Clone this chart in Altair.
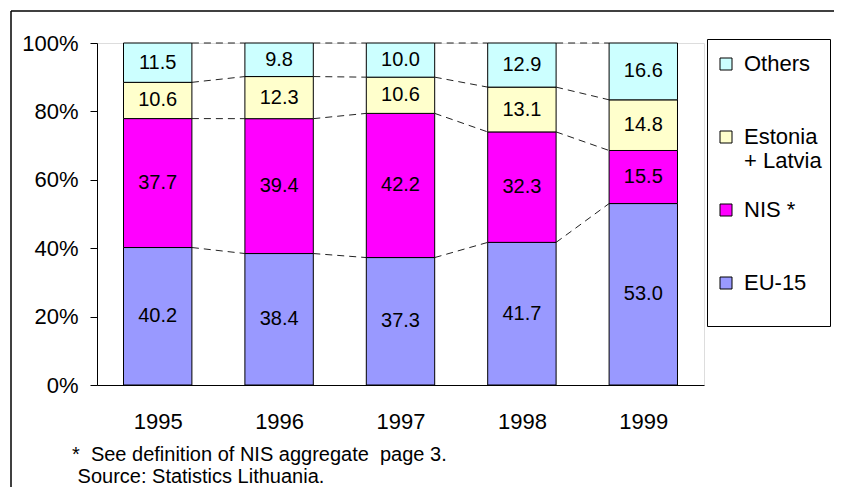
import altair as alt
import pandas as pd

years = [1995, 1996, 1997, 1998, 1999]
series = ["EU-15", "NIS *", "Estonia + Latvia", "Others"]
eu15 = [40.2, 38.4, 37.3, 41.7, 53.0]
nis = [37.7, 39.4, 42.2, 32.3, 15.5]
est_lat = [10.6, 12.3, 10.6, 13.1, 14.8]
others = [11.5, 9.8, 10.0, 12.9, 16.6]
colors = ["#9999FF", "#FF00FF", "#FFFFCC", "#CCFFFF"]
footnote = ["*\u00a0\u00a0See definition of NIS aggregate\u00a0 page 3.",
            "\u200b\u00a0Source: Statistics Lithuania."]

HALF = 0.2817  # half bar width in category units

values = [eu15, nis, est_lat, others]
rows = []
tops = {}
for i, yr in enumerate(years):
    total = sum(v[i] for v in values)
    cum = 0.0
    for s, v in zip(series, values):
        start = cum / total
        cum += v[i]
        end = cum / total
        rows.append(dict(year=yr, series=s, value=v[i], label=f"{v[i]:.1f}",
                         start=start, end=end, mid=(start + end) / 2,
                         x0=yr - HALF, x1=yr + HALF))
        tops[(s, i)] = end
df = pd.DataFrame(rows)

lrows = []
for s in series:
    for i in range(len(years) - 1):
        lrows.append(dict(series=s, xa=years[i] + HALF, xb=years[i + 1] - HALF,
                          ya=tops[(s, i)], yb=tops[(s, i + 1)]))
ldf = pd.DataFrame(lrows)

FONT = "Liberation Sans"
xscale = alt.Scale(domain=[1994.5, 1999.5], nice=False, zero=False)
yscale = alt.Scale(domain=[0, 1], nice=False)
legend_order = ["Others", "Estonia + Latvia", "NIS *", "EU-15"]
legend_colors = ["#CCFFFF", "#FFFFCC", "#FF00FF", "#9999FF"]

bars = alt.Chart(df).mark_bar(stroke="black", strokeWidth=1).encode(
    x=alt.X("x0:Q", scale=xscale,
            axis=alt.Axis(values=years, format="d", title=None, ticks=False, tickSize=0,
                          labelPadding=26, labelFontSize=22, labelFont=FONT,
                          labelColor="black", domainColor="black", grid=False)),
    x2="x1:Q",
    y=alt.Y("start:Q", scale=yscale,
            axis=alt.Axis(values=[0, 0.2, 0.4, 0.6, 0.8, 1.0], format=".0%", title=None,
                          tickSize=7, tickColor="black", labelPadding=12,
                          labelFontSize=22, labelFont=FONT, labelColor="black",
                          domainColor="black", grid=False)),
    y2="end:Q",
    color=alt.Color("series:N",
                    scale=alt.Scale(domain=legend_order, range=legend_colors),
                    legend=alt.Legend(
                        title="\u00a0", titleFontSize=1, titlePadding=5,
                        orient="none", legendX=610, legendY=-4,
                        strokeColor="black", padding=8, fillColor="white",
                        symbolType="square", symbolSize=144, symbolStrokeColor="black",
                        symbolStrokeWidth=1, labelFontSize=22, labelFont=FONT,
                        labelColor="black", labelOffset=7, rowPadding=27,
                        gridAlign="all", labelLimit=200,
                        labelExpr="datum.label == 'Estonia + Latvia' ? ['Estonia', '+ Latvia'] : (datum.label == 'EU-15' ? ['EU-15', '\u00a0'] : datum.label)")),
)

texts = alt.Chart(df).mark_text(fontSize=20, font=FONT, color="black", baseline="middle").encode(
    x=alt.X("year:Q", scale=xscale),
    y=alt.Y("mid:Q", scale=yscale),
    text="label:N",
)

lines = alt.Chart(ldf).mark_rule(color="#222222", strokeWidth=1, strokeDash=[7, 5]).encode(
    x=alt.X("xa:Q", scale=xscale),
    x2="xb:Q",
    y=alt.Y("ya:Q", scale=yscale),
    y2="yb:Q",
)

frame_top = alt.Chart(pd.DataFrame({"k": [0]})).mark_rule(color="black", strokeWidth=1.5).encode(
    x=alt.value(-86), x2=alt.value(800), y=alt.value(-32))
frame_left = alt.Chart(pd.DataFrame({"k": [0]})).mark_rule(color="black", strokeWidth=1.5).encode(
    x=alt.value(-86), y=alt.value(-32), y2=alt.value(444))

chart = alt.layer(lines, bars, texts, frame_top, frame_left).properties(
    width=607, height=342,
    autosize=alt.AutoSizeParams(type="none"),
    padding={"left": 89, "top": 35, "right": 130, "bottom": 102},
    title=alt.TitleParams(footnote, orient="bottom", anchor="start", frame="group",
                          dx=-25, offset=-43, fontSize=20, font=FONT, color="black",
                          fontWeight="normal", lineHeight=22),
).configure_view(stroke="#808080", strokeWidth=1).configure(background="white")

chart.save("out.html", embed_options={"renderer": "svg", "actions": False})
